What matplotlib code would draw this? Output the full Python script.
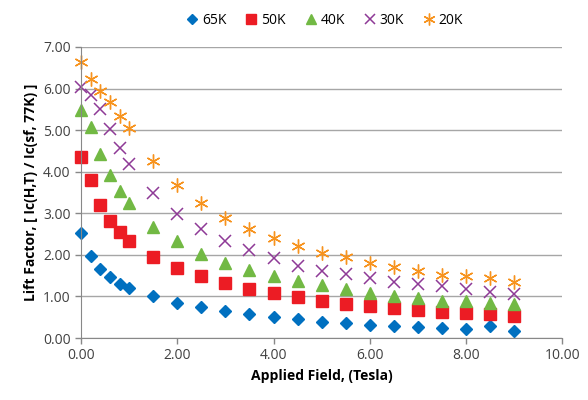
import matplotlib
matplotlib.use("Agg")
import matplotlib.pyplot as plt

plt.rcParams['font.family'] = ['Open Sans', 'DejaVu Sans']

# 磁场 (Tesla)
field = [0.0, 0.2, 0.4, 0.6, 0.8, 1.0, 1.5, 2.0, 2.5, 3.0, 3.5, 4.0,
         4.5, 5.0, 5.5, 6.0, 6.5, 7.0, 7.5, 8.0, 8.5, 9.0]

lift_65k = [2.53, 1.98, 1.66, 1.47, 1.30, 1.20, 1.00, 0.84, 0.75, 0.65, 0.57, 0.50,
            0.45, 0.38, 0.36, 0.32, 0.30, 0.26, 0.24, 0.22, 0.28, 0.18]
lift_50k = [4.35, 3.79, 3.19, 2.81, 2.54, 2.33, 1.94, 1.68, 1.48, 1.32, 1.17, 1.08,
            0.99, 0.90, 0.82, 0.77, 0.72, 0.68, 0.62, 0.61, 0.57, 0.54]
lift_40k = [5.49, 5.07, 4.43, 3.93, 3.53, 3.25, 2.67, 2.33, 2.02, 1.80, 1.64, 1.49,
            1.36, 1.28, 1.17, 1.09, 1.02, 0.97, 0.90, 0.89, 0.85, 0.82]
lift_30k = [6.04, 5.85, 5.51, 5.03, 4.57, 4.19, 3.49, 2.99, 2.61, 2.33, 2.11, 1.92,
            1.74, 1.61, 1.54, 1.44, 1.34, 1.30, 1.25, 1.17, 1.10, 1.06]
lift_20k = [6.64, 6.23, 5.93, 5.67, 5.33, 5.04, 4.25, 3.67, 3.25, 2.89, 2.62, 2.40,
            2.22, 2.05, 1.94, 1.81, 1.70, 1.61, 1.52, 1.50, 1.44, 1.34]

labels = ["65K", "50K", "40K", "30K", "20K"]

fig = plt.figure(figsize=(5.88, 4.0), dpi=100)
ax = fig.add_axes([0.138, 0.155, 0.818, 0.7275])

ax.plot(field, lift_65k, linestyle='none', marker='D', markersize=6.5,
        color='#0070C0', label=labels[0], clip_on=False)
ax.plot(field, lift_50k, linestyle='none', marker='s', markersize=8.5,
        color='#EC1C24', label=labels[1], clip_on=False)
ax.plot(field, lift_40k, linestyle='none', marker='^', markersize=9,
        color='#72B944', label=labels[2], clip_on=False)
ax.plot(field, lift_30k, linestyle='none', marker='x', markersize=8,
        markeredgewidth=1.1, color='#8E3A96', label=labels[3], clip_on=False)
ax.plot(field, lift_20k, linestyle='none', marker=(6, 2, 0), markersize=10,
        markeredgewidth=1.0, color='#F7931E', label=labels[4], clip_on=False)

ax.set_xlim(0, 10)
ax.set_ylim(0, 7)
ax.set_xticks([0, 2, 4, 6, 8, 10])
ax.set_yticks([0, 1, 2, 3, 4, 5, 6, 7])
ax.xaxis.set_major_formatter(matplotlib.ticker.FormatStrFormatter('%.2f'))
ax.yaxis.set_major_formatter(matplotlib.ticker.FormatStrFormatter('%.2f'))
ax.tick_params(axis='both', labelsize=10, labelcolor='#404040', length=4,
               width=1, direction='out', color='#888888')

ax.grid(axis='y', color='#A6A6A6', linewidth=1)
ax.set_axisbelow(True)
for s in ['top', 'right']:
    ax.spines[s].set_visible(False)
for s in ['left', 'bottom']:
    ax.spines[s].set_color('#888888')

ax.set_xlabel("Applied Field, (Tesla)", fontsize=10, fontweight='bold')
ax.set_ylabel("Lift Factor, [ Ic(H,T) / Ic(sf, 77K) ]", fontsize=10,
              fontweight='bold')

fig.legend(loc='upper center', bbox_to_anchor=(0.55, 1.0), ncol=5,
           frameon=False, fontsize=10, handletextpad=0.1, columnspacing=1.2,
           handlelength=1.2, markerscale=0.85)

fig.savefig("out.png", dpi=100)
